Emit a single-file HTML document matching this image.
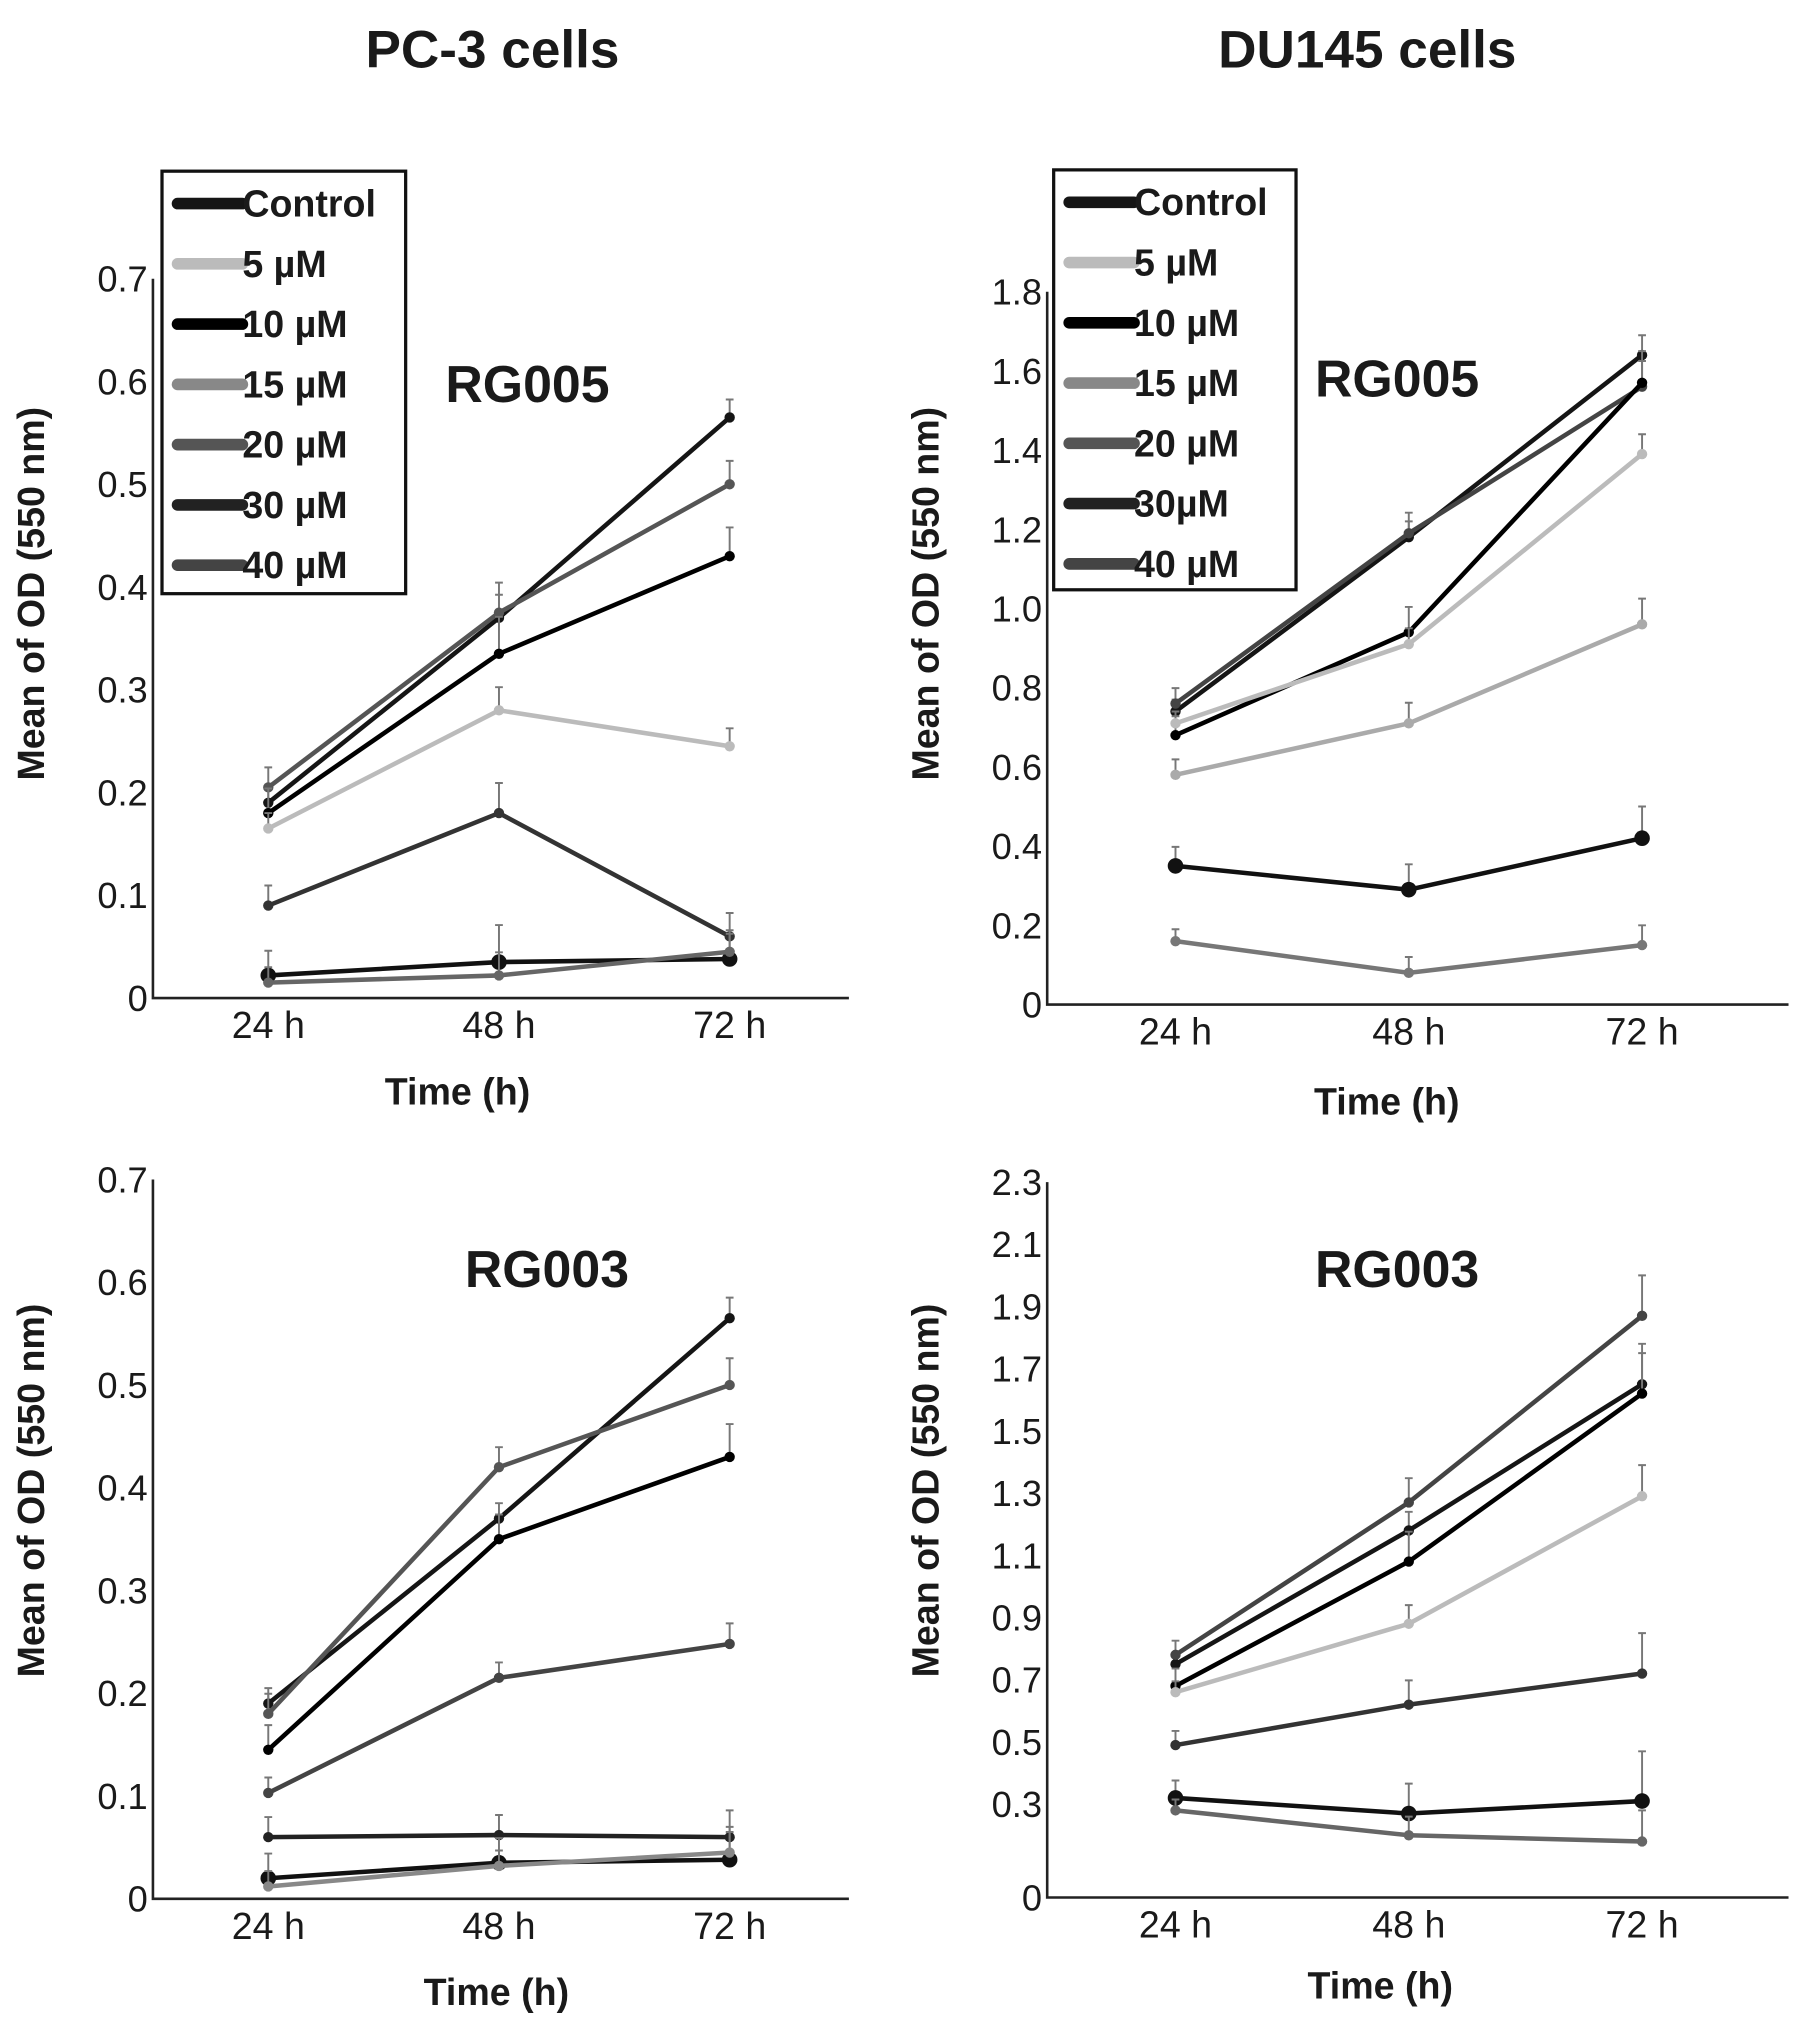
<!DOCTYPE html>
<html><head><meta charset="utf-8"><style>
html,body{margin:0;padding:0;background:#fff}
svg{display:block}
text{font-family:"Liberation Sans",sans-serif;fill:#1a1a1a}
.b{font-weight:bold}
.n{font-weight:normal}
</style></head><body>
<svg id="fig" width="1795" height="2022" viewBox="0 0 1385 1560" xmlns="http://www.w3.org/2000/svg">
<text class="b" x="380" y="52" font-size="41" text-anchor="middle">PC-3 cells</text>
<text class="b" x="1055" y="52" font-size="41" text-anchor="middle">DU145 cells</text>
</svg>
<script>
const timeLabels = ["24 h","48 h","72 h"];
const seriesNames = ["Control","5 µM","10 µM","15 µM","20 µM","30 µM","40 µM"];
const seriesNamesDU = ["Control","5 µM","10 µM","15 µM","20 µM","30µM","40 µM"];
// PC-3 RG005
const pcA_control=[0.19,0.37,0.565], pcA_s5=[0.205,0.375,0.5], pcA_s10=[0.18,0.335,0.43], pcA_s15=[0.165,0.28,0.245], pcA_s20=[0.09,0.18,0.06], pcA_s30=[0.022,0.035,0.038], pcA_s40=[0.015,0.022,0.045];
const pcA_err=[0.03,0.045,0.035];
// DU145 RG005
const duA_control=[0.74,1.18,1.64], duA_s5=[0.76,1.19,1.56], duA_s10=[0.68,0.94,1.57], duA_s15=[0.71,0.91,1.39], duA_s20=[0.58,0.71,0.96], duA_s30=[0.35,0.29,0.42], duA_s40=[0.16,0.08,0.15];
const duA_err=[0.06,0.08,0.1];
// PC-3 RG003
const pcB_control=[0.19,0.37,0.565], pcB_s5=[0.18,0.42,0.5], pcB_s10=[0.145,0.35,0.43], pcB_s15=[0.103,0.215,0.248], pcB_s20=[0.06,0.062,0.06], pcB_s30=[0.02,0.035,0.038], pcB_s40=[0.012,0.032,0.045];
const pcB_err=[0.03,0.03,0.04];
// DU145 RG003
const duB_control=[0.75,1.18,1.65], duB_s5=[0.78,1.27,1.87], duB_s10=[0.68,1.08,1.62], duB_s15=[0.66,0.88,1.29], duB_s20=[0.49,0.62,0.72], duB_s30=[0.32,0.27,0.31], duB_s40=[0.28,0.2,0.18];
const duB_err=[0.07,0.12,0.2];
const ticksPC=["0","0.1","0.2","0.3","0.4","0.5","0.6","0.7"];
const ticksDUA=["0","0.2","0.4","0.6","0.8","1.0","1.2","1.4","1.6","1.8"];
const ticksDUB=["0","0.3","0.5","0.7","0.9","1.1","1.3","1.5","1.7","1.9","2.1","2.3"];

const NS="http://www.w3.org/2000/svg";
const svg=document.getElementById('fig');
function el(tag,attrs,parent){const e=document.createElementNS(NS,tag);for(const k in attrs)e.setAttribute(k,attrs[k]);(parent||svg).appendChild(e);return e;}

function chart(cfg){
  const g=el('g',{});
  
  
  const {x0,x1,yTop,yBot,vmax,xs}=cfg;
  const Y=v=>yBot-(v/vmax)*(yBot-yTop);
  const X=i=>xs[i];
  const ax=el('path',{d:`M${x0} ${yTop} V${yBot} H${x1}`,stroke:'#222','stroke-width':2,fill:'none'},g);
  
  
  cfg.ticks.forEach(t=>{
    const tx=el('text',{class:'n',x:x0-4,y:Y(parseFloat(t))+10,'font-size':28,'text-anchor':'end'},g);
    tx.textContent=t;
    
    
  });
  timeLabels.forEach((t,i)=>{
    const tx=el('text',{class:'n',x:X(i),y:yBot+31,'font-size':29,'text-anchor':'middle'},g);
    tx.textContent=t;
    
    
  });
  const xt=el('text',{class:'b',x:cfg.xtx,y:cfg.xty,'font-size':29,'text-anchor':'middle'},g);
  xt.textContent='Time (h)';
  
  
  const yt=el('text',{class:'b',x:0,y:0,'font-size':29,'text-anchor':'middle',transform:`translate(${x0-84},${cfg.ytc}) rotate(-90)`},g);
  yt.textContent='Mean of OD (550 nm)';
  
  
  const lb=el('text',{class:'b',x:cfg.lbx,y:cfg.lby,'font-size':40,'text-anchor':'middle'},g);
  lb.textContent=cfg.label;
  
  
  cfg.series.forEach((s,si)=>{
    const c=cfg.colors[si];
    s.forEach((v,i)=>{
      const e=cfg.err[i]*(0.5+0.15*(si%3));
      const eb=el('path',{d:`M${X(i)} ${Y(v)} V${Y(v+e)} M${X(i)-3} ${Y(v+e)} H${X(i)+3}`,stroke:'#777','stroke-width':1.5},g);
      
      
    });
    const pl=el('polyline',{points:s.map((v,i)=>X(i)+','+Y(v)).join(' '),fill:'none',stroke:c,'stroke-width':3.5},g);
    
    
    s.forEach((v,i)=>{
      const m=el('circle',{cx:X(i),cy:Y(v),r:si===5?6:4,fill:c},g);
      
      
    });
  });
  if(cfg.legend){
    const L=cfg.legend;
    const box=el('rect',{x:L.x,y:L.y,width:L.w,height:L.h,fill:'#fff',stroke:'#111','stroke-width':2.5},g);
    
    
    cfg.names.forEach((n,i)=>{
      const yy=L.y+25+i*46.5;
      const lc=['#151515','#bbb','#000','#888','#555','#222','#444'][i];
      const ln=el('line',{x1:L.x+12,x2:L.x+62,y1:yy,y2:yy,stroke:lc,'stroke-width':9,'stroke-linecap':'round'},g);
      
      
      const t=el('text',{class:'b',x:L.x+62,y:yy+10,'font-size':29},g);
      t.textContent=n;
      
      
    });
  }
}
const xsL=[207,385,563], xsR=[907,1087,1267];
chart({name:'chart-pc3-rg005',x0:118,x1:655,yTop:215,yBot:770,vmax:0.7,xs:xsL,ticks:ticksPC,xtx:353,xty:852,ytc:458,lbx:407,lby:310,label:'RG005',
  series:[pcA_control,pcA_s5,pcA_s10,pcA_s15,pcA_s20,pcA_s30,pcA_s40],err:pcA_err,colors:["#151515","#555","#000","#bbb","#333","#111","#666"],
  legend:{x:125,y:132,w:188,h:326},names:seriesNames});
chart({name:'chart-du145-rg005',x0:808,x1:1380,yTop:225,yBot:775,vmax:1.8,xs:xsR,ticks:ticksDUA,xtx:1070,xty:860,ytc:458,lbx:1078,lby:306,label:'RG005',
  series:[duA_control,duA_s5,duA_s10,duA_s15,duA_s20,duA_s30,duA_s40],err:duA_err,colors:["#151515","#444","#000","#bbb","#aaa","#111","#777"],
  legend:{x:813,y:131,w:187,h:324},names:seriesNamesDU});
chart({name:'chart-pc3-rg003',x0:118,x1:655,yTop:910,yBot:1465,vmax:0.7,xs:xsL,ticks:ticksPC,xtx:383,xty:1547,ytc:1150,lbx:422,lby:993,label:'RG003',
  series:[pcB_control,pcB_s5,pcB_s10,pcB_s15,pcB_s20,pcB_s30,pcB_s40],err:pcB_err,colors:["#151515","#555","#000","#444","#222","#111","#888"]});
chart({name:'chart-du145-rg003',x0:808,x1:1380,yTop:912,yBot:1464,vmax:2.3,xs:xsR,ticks:ticksDUB,xtx:1065,xty:1542,ytc:1150,lbx:1078,lby:993,label:'RG003',
  series:[duB_control,duB_s5,duB_s10,duB_s15,duB_s20,duB_s30,duB_s40],err:duB_err,colors:["#151515","#444","#000","#bbb","#333","#111","#666"]});
</script>
</body></html>
